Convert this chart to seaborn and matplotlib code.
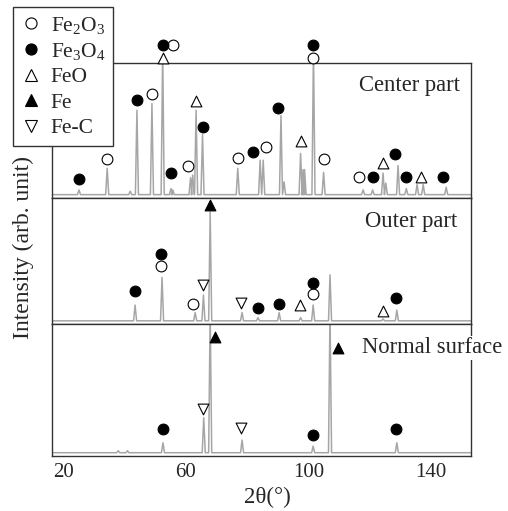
import numpy as np
import pandas as pd
import matplotlib
matplotlib.use('Agg')
import matplotlib.pyplot as plt
from matplotlib.lines import Line2D
import seaborn as sns

sns.set_style('white')
plt.rcParams['font.family'] = ['Liberation Serif', 'DejaVu Serif']
plt.rcParams['mathtext.default'] = 'regular'

# peak positions (2theta) and heights (0-100 panel scale)
center_pos = [25.2, 34.4, 41.9, 44.1, 49.0, 52.5, 55.2, 55.8, 61.6, 62.3, 63.4, 65.5,
              77.0, 84.3, 85.3, 91.1, 92.1, 97.5, 98.3, 98.8, 101.7, 105.0,
              117.9, 121.0, 124.4, 125.3, 129.3, 132.0, 135.5, 137.5, 145.0]
center_int = [6, 22, 5, 65, 70, 110, 7, 6, 15, 17, 65, 47,
              22, 28, 28, 61, 12, 33, 21, 21, 110, 19,
              6, 6, 18.5, 11, 24, 7, 10, 10, 8]

outer_pos = [43.5, 52.3, 63.1, 65.8, 68.0, 78.4, 83.6, 90.5, 97.5, 101.6, 107.1, 124.4, 128.9]
outer_int = [15, 37, 9, 23, 89, 9, 5, 9, 5, 15, 39, 4, 11]

normal_pos = [38.0, 41.0, 52.6, 65.9, 68.0, 78.4, 101.6, 107.1, 128.9]
normal_int = [4, 4, 10, 29, 110, 12, 7.5, 110, 10]

# phase markers (2theta, height) per panel
center_marks = {
    'Fe2O3': ([34.4, 49.0, 55.9, 60.8, 77.0, 86.2, 101.7, 105.0, 116.6],
              [29, 77, 113, 23.7, 30, 38, 104, 29, 15.5]),
    'Fe3O4': ([25.2, 44.1, 52.5, 55.2, 65.5, 82.0, 90.1, 101.7, 121.0, 128.3, 132.0, 144.0],
              [14, 72.6, 113, 18.5, 52.6, 34, 67, 113, 15.5, 32.6, 15.5, 15.5]),
    'FeO': ([52.5, 63.4, 97.5, 124.4, 136.8],
            [104, 72, 42, 26, 15.5]),
}
outer_marks = {
    'Fe2O3': ([52.0, 62.4, 101.6], [46, 16, 24]),
    'Fe3O4': ([43.5, 52.0, 83.6, 90.5, 101.6, 128.6], [26, 55.6, 12.7, 16, 32.5, 21]),
    'FeO': ([97.3, 124.4], [15, 10]),
    'Fe': ([68.0], [94.4]),
    'Fe-C': ([65.7, 78.1], [31, 16.7]),
}
normal_marks = {
    'Fe3O4': ([52.6, 101.6, 128.6], [20.5, 16, 20.5]),
    'Fe': ([69.6, 109.7], [90, 82]),
    'Fe-C': ([65.7, 78.1], [35.6, 21]),
}

phases = ['Fe2O3', 'Fe3O4', 'FeO', 'Fe', 'Fe-C']
phase_labels = ['Fe$_2$O$_3$', 'Fe$_3$O$_4$', 'FeO', 'Fe', 'Fe-C']
phase_style = {
    'Fe2O3': dict(marker='o', facecolor='white', s=60),
    'Fe3O4': dict(marker='o', facecolor='black', s=60),
    'FeO': dict(marker='^', facecolor='white', s=60),
    'Fe': dict(marker='^', facecolor='black', s=60),
    'Fe-C': dict(marker='v', facecolor='white', s=60),
}

panel_names = ['Center part', 'Outer part', 'Normal surface']
baseline = 2.5
half_w = 0.5


def spectrum(pos, inten):
    xs = [14.0]
    ys = [baseline]
    for p, h in sorted(zip(pos, inten)):
        xs += [p - half_w, p, p + half_w]
        ys += [baseline, h, baseline]
    xs.append(155.0)
    ys.append(baseline)
    return pd.DataFrame({'two_theta': xs, 'intensity': ys})


fig = plt.figure(figsize=(5.08, 5.11), dpi=100)
rects = [[0.1024, 0.6125, 0.8248, 0.2642],
         [0.1024, 0.3660, 0.8248, 0.2466],
         [0.1024, 0.1076, 0.8248, 0.2583]]
spectra = [(center_pos, center_int), (outer_pos, outer_int), (normal_pos, normal_int)]
marks = [center_marks, outer_marks, normal_marks]

for i, rect in enumerate(rects):
    ax = fig.add_axes(rect)
    df = spectrum(*spectra[i])
    sns.lineplot(data=df, x='two_theta', y='intensity', ax=ax, color='#a6a6a6',
                 linewidth=1.1, estimator=None, sort=False)
    for ph, (mx, my) in marks[i].items():
        st = phase_style[ph]
        sns.scatterplot(x=mx, y=my, ax=ax, marker=st['marker'], s=st['s'],
                        color=st['facecolor'], edgecolor='black', linewidth=0.8,
                        clip_on=False, zorder=5)
    ax.set_xlim(16.4, 153.1)
    ax.set_ylim(0, 100)
    ax.set_yticks([])
    ax.set_xlabel('')
    ax.set_ylabel('')
    for sp in ax.spines.values():
        sp.set_color('#333333')
        sp.set_linewidth(1.0)
    if i < 2:
        ax.set_xticks([])
        ax.text(149.5 if i == 0 else 148.5, 83.7 if i == 0 else 81, panel_names[i],
                ha='right', va='center', fontsize=16.3)
    else:
        ax.set_xticks([20, 60, 100, 140])
        ax.tick_params(axis='x', labelsize=15, length=0, pad=5)
        ax.text(117.6, 82, panel_names[i], ha='left', va='center', fontsize=16.3,
                bbox=dict(facecolor='white', edgecolor='none', pad=1), zorder=6,
                clip_on=False)

fig.text(0.526, 0.027, '2θ(°)', ha='center', va='center', fontsize=16.5)
fig.text(0.047, 0.515, 'Intensity (arb. unit)', ha='center', va='center',
         rotation=90, fontsize=17)

handles = []
for ph in phases:
    st = phase_style[ph]
    handles.append(Line2D([], [], linestyle='none', marker=st['marker'], markersize=8,
                          markerfacecolor=st['facecolor'], markeredgecolor='black',
                          markeredgewidth=0.8))
leg = fig.legend(handles, phase_labels, loc='upper left',
                 bbox_to_anchor=(13 / 508, 1 - 7 / 511), borderaxespad=0,
                 fontsize=15.5, frameon=True, fancybox=False, framealpha=1,
                 edgecolor='#333333', handlelength=1.0, handletextpad=0.4,
                 labelspacing=0.25, borderpad=0.35)
leg.get_frame().set_linewidth(1.0)

fig.savefig('out.png', dpi=100)
